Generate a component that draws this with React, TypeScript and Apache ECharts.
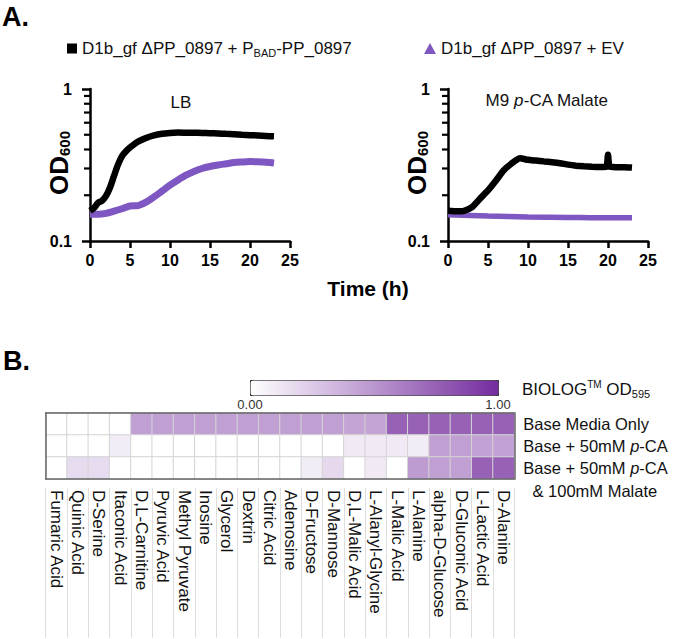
import React, { useEffect, useRef } from 'react';
import * as echarts from 'echarts';

const FONT = 'Liberation Sans, Arial, Helvetica, sans-serif';

// ---- Panel A: growth curves (time in h, OD600) ----
const lbTime = [0, 0.5, 1, 1.5, 2, 2.5, 3, 3.5, 4, 4.5, 5, 5.5, 6, 7, 8, 9, 10, 11, 12, 13, 14, 15, 16, 17, 18, 19, 20, 21, 22, 23];
const lbComplemented = [0.158, 0.165, 0.178, 0.184, 0.198, 0.225, 0.268, 0.318, 0.362, 0.39, 0.412, 0.432, 0.45, 0.476, 0.496, 0.508, 0.514, 0.517, 0.516, 0.515, 0.514, 0.512, 0.51, 0.507, 0.504, 0.5, 0.497, 0.494, 0.491, 0.488];
const lbEvTime = [0, 1, 2, 3, 4, 5, 6, 7, 8, 9, 10, 11, 12, 13, 14, 15, 16, 17, 18, 19, 20, 21, 22, 23];
const lbEmptyVector = [0.15, 0.15, 0.152, 0.157, 0.163, 0.17, 0.171, 0.18, 0.195, 0.213, 0.233, 0.252, 0.271, 0.287, 0.3, 0.309, 0.316, 0.322, 0.328, 0.331, 0.333, 0.332, 0.33, 0.326];
const m9Time = [0, 1, 2, 3, 4, 5, 6, 7, 8, 9, 10, 11, 12, 13, 14, 15, 16, 17, 18, 19, 19.8, 20, 20.2, 21, 22, 23];
const m9Complemented = [0.158, 0.157, 0.158, 0.167, 0.19, 0.215, 0.25, 0.293, 0.325, 0.35, 0.342, 0.338, 0.334, 0.33, 0.325, 0.318, 0.313, 0.31, 0.308, 0.307, 0.308, 0.37, 0.308, 0.306, 0.306, 0.304];
const m9EvTime = [0, 5, 10, 15, 20, 23];
const m9EmptyVector = [0.149, 0.146, 0.144, 0.143, 0.142, 0.142];
const timeTicks = [0, 25, 5];
const odRange = [0.1, 1];
const odMinorTicks = [0.2, 0.3, 0.4, 0.5, 0.6, 0.7, 0.8, 0.9];

const compName = 'D1b_gf ΔPP_0897 + PBAD-PP_0897';
const evName = 'D1b_gf ΔPP_0897 + EV';

// ---- Panel B: BIOLOG heatmap ----
const carbonSources = ['Fumaric Acid', 'Quinic Acid', 'D-Serine', 'Itaconic Acid', 'D,L-Carnitine', 'Pyruvic Acid', 'Methyl Pyruvate', 'Inosine', 'Glycerol', 'Dextrin', 'Citric Acid', 'Adenosine', 'D-Fructose', 'D-Mannose', 'D,L-Malic Acid', 'L-Alanyl-Glycine', 'L-Malic Acid', 'L-Alanine', 'alpha-D-Glucose', 'D-Gluconic Acid', 'L-Lactic Acid', 'D-Alanine'];
const conditions = ['Base Media Only', 'Base + 50mM p-CA', 'Base + 50mM p-CA & 100mM Malate'];
const baseMediaOnly = [0, 0, 0, 0, 0.45, 0.45, 0.45, 0.45, 0.45, 0.45, 0.45, 0.45, 0.45, 0.45, 0.43, 0.43, 0.75, 0.75, 0.75, 0.75, 0.75, 0.75];
const basePCA = [0, 0, 0, 0.09, 0, 0, 0, 0, 0, 0, 0, 0, 0, 0, 0.1, 0.1, 0.1, 0.09, 0.45, 0.45, 0.44, 0.44];
const basePCAMalate = [0, 0.17, 0.17, 0, 0, 0, 0, 0, 0, 0, 0, 0, 0.09, 0.18, 0, 0.1, 0, 0.47, 0.45, 0.45, 0.75, 0.75];
const colorRange = [0, 1];

const zip = (xs: number[], ys: number[]) => xs.map((x, i) => [x, ys[i]]);

const BLACK = '#000';
const PURPLE = '#7e57c2';

function growthAxes(gi: number) {
  const x = {
    type: 'value', gridIndex: gi, position: 'bottom', min: timeTicks[0], max: timeTicks[1], interval: timeTicks[2],
    axisLine: { show: true, lineStyle: { color: BLACK, width: 2.5 } },
    axisTick: { show: true, length: 7, lineStyle: { color: BLACK, width: 2.5 } },
    axisLabel: { margin: 11, fontSize: 16, fontWeight: 'bold', color: BLACK, fontFamily: FONT },
    splitLine: { show: false },
  };
  const y = {
    type: 'log', logBase: 10, gridIndex: gi, position: 'left', min: odRange[0], max: odRange[1],
    axisLine: { show: true, lineStyle: { color: BLACK, width: 2.5 } },
    axisTick: { show: true, length: 8, lineStyle: { color: BLACK, width: 2.5 } },
    axisLabel: { margin: 18, fontSize: 16, fontWeight: 'bold', color: BLACK, fontFamily: FONT, formatter: (v: number) => (v > 0.5 ? '1' : '0.1') },
    splitLine: { show: false },
  };
  // narrow strip left of the axis holding the minor log ticks
  const stripX = { type: 'value', gridIndex: gi + 4, min: 0, max: 1, show: false };
  const stripY = { type: 'log', logBase: 10, gridIndex: gi + 4, min: odRange[0], max: odRange[1], show: false };
  return { x, y, stripX, stripY };
}

function minorTickSeries(xi: number, yi: number) {
  return {
    type: 'scatter', xAxisIndex: xi, yAxisIndex: yi, silent: true,
    data: odMinorTicks.map((v) => [0.5, v]),
    symbol: 'rect', symbolSize: [6, 2.2], itemStyle: { color: BLACK, opacity: 1 }, z: 5,
  };
}

export default function App() {
  const ref = useRef<HTMLDivElement>(null);
  useEffect(() => {
    if (!ref.current) return;
    const chart = echarts.init(ref.current, undefined, { renderer: 'svg' });
    const g0 = growthAxes(0);
    const g1 = growthAxes(1);
    const heatData: any[] = [];
    [baseMediaOnly, basePCA, basePCAMalate].forEach((row, r) => row.forEach((v, c) => heatData.push([c, r, v])));

    const rowRich = {
      n: { fontSize: 16.5, color: '#111', fontFamily: FONT, lineHeight: 23 },
      i: { fontSize: 16.5, color: '#111', fontFamily: FONT, fontStyle: 'italic', lineHeight: 23 },
    };
    const rowFormatter = (v: string) => {
      if (v === conditions[0]) return '{n|Base Media Only}';
      if (v === conditions[1]) return '{n|Base + 50mM }{i|p}{n|-CA}';
      return '{n| }\n{n|Base + 50mM }{i|p}{n|-CA}\n{n|  & 100mM Malate}';
    };
    const legendRich = {
      n: { fontSize: 17, color: '#111', fontFamily: FONT, lineHeight: 20 },
      s: { fontSize: 11, color: '#111', fontFamily: FONT, verticalAlign: 'bottom', lineHeight: 12 },
    };
    const odText = (x: number) => ({
      type: 'text', x, y: 163, rotation: Math.PI / 2,
      style: {
        text: '{a|OD}{b|600}', align: 'center', verticalAlign: 'middle',
        rich: {
          a: { fontSize: 26, fontWeight: 'bold', fill: BLACK, fontFamily: FONT, lineHeight: 26 },
          b: { fontSize: 15, fontWeight: 'bold', fill: BLACK, fontFamily: FONT, verticalAlign: 'bottom', lineHeight: 15 },
        },
      },
    });

    const option: any = {
      animation: false,
      textStyle: { fontFamily: FONT },
      grid: [
        { left: 90, top: 89, width: 200, height: 152 },
        { left: 448, top: 89, width: 200, height: 152 },
        { left: 45.7, top: 413, width: 468.6, height: 66 },
        { left: 250, top: 395, width: 248, height: 1 },
        { left: 84, top: 89, width: 6, height: 152 },
        { left: 442, top: 89, width: 6, height: 152 },
      ],
      legend: [
        {
          data: [{ name: compName, icon: 'rect' }], left: 62, top: 35, itemWidth: 10, itemHeight: 10, selectedMode: false,
          formatter: () => '{n|D1b_gf ΔPP_0897 + P}{s|BAD}{n|-PP_0897}', textStyle: { rich: legendRich },
        },
        {
          data: [{ name: evName, icon: 'triangle' }], left: 419, top: 35, itemWidth: 12, itemHeight: 11, selectedMode: false,
          formatter: () => '{n|D1b_gf ΔPP_0897 + EV}', textStyle: { rich: legendRich },
        },
      ],
      xAxis: [
        g0.x,
        g1.x,
        { type: 'category', gridIndex: 2, position: 'bottom', data: carbonSources, z: 5, axisLine: { show: true, lineStyle: { color: '#666', width: 1.5 } }, axisTick: { show: false }, axisLabel: { show: false } },
        {
          type: 'category', gridIndex: 2, position: 'bottom', offset: 9, data: carbonSources,
          axisLine: { show: false },
          axisTick: { show: true, length: 150, interval: 0, lineStyle: { color: '#dedede', width: 1 } },
          axisLabel: { interval: 0, rotate: -90, margin: 2, fontSize: 17, color: '#111', fontFamily: FONT },
        },
        { type: 'category', gridIndex: 2, position: 'top', data: carbonSources, z: 5, axisLine: { show: true, lineStyle: { color: '#666', width: 1.5 } }, axisTick: { show: false }, axisLabel: { show: false } },
        {
          type: 'value', gridIndex: 3, position: 'bottom', min: colorRange[0], max: colorRange[1], interval: 1,
          axisLine: { show: false }, axisTick: { show: false }, splitLine: { show: false },
          axisLabel: { margin: 2, fontSize: 13, color: '#333', fontFamily: FONT, formatter: (v: number) => v.toFixed(2) },
        },
        g0.stripX,
        g1.stripX,
      ],
      yAxis: [
        g0.y,
        g1.y,
        {
          type: 'category', gridIndex: 2, position: 'right', inverse: true, data: conditions, z: 5,
          axisLine: { show: true, lineStyle: { color: '#666', width: 1.5 } }, axisTick: { show: false },
          axisLabel: { interval: 0, margin: 9, align: 'left', formatter: rowFormatter, rich: rowRich },
        },
        { type: 'category', gridIndex: 2, position: 'left', inverse: true, data: conditions, z: 5, axisLine: { show: true, lineStyle: { color: '#666', width: 1.5 } }, axisTick: { show: false }, axisLabel: { show: false } },
        { type: 'value', gridIndex: 3, show: false },
        g0.stripY,
        g1.stripY,
      ],
      visualMap: {
        type: 'continuous', min: colorRange[0], max: colorRange[1], orient: 'horizontal', left: 250, top: 380,
        itemWidth: 15, itemHeight: 248, padding: 0, borderColor: '#222', borderWidth: 1, calculable: false,
        seriesIndex: 4, hoverLink: false, inRange: { color: ['#ffffff', '#742c9e'] },
      },
      graphic: [
        { type: 'text', x: 2, y: 3, style: { text: 'A.', fontSize: 27, fontWeight: 'bold', fill: '#000', fontFamily: FONT } },
        { type: 'text', x: 3, y: 347, style: { text: 'B.', fontSize: 27, fontWeight: 'bold', fill: '#000', fontFamily: FONT } },
        odText(59),
        odText(417),
        { type: 'text', x: 181, y: 102, style: { text: 'LB', fontSize: 17, fill: '#111', fontFamily: FONT, align: 'center', verticalAlign: 'middle' } },
        {
          type: 'text', x: 547, y: 100,
          style: {
            text: '{n|M9 }{i|p}{n|-CA Malate}', align: 'center', verticalAlign: 'middle',
            rich: { n: { fontSize: 17, fill: '#111', fontFamily: FONT }, i: { fontSize: 17, fill: '#111', fontFamily: FONT, fontStyle: 'italic' } },
          },
        },
        { type: 'text', x: 368, y: 288, style: { text: 'Time (h)', fontSize: 21, fontWeight: 'bold', fill: '#000', fontFamily: FONT, align: 'center', verticalAlign: 'middle' } },
        {
          type: 'text', x: 522, y: 389,
          style: {
            text: '{n|BIOLOG}{sup|TM}{n| OD}{sub|595}', verticalAlign: 'middle',
            rich: {
              n: { fontSize: 17, fill: '#111', fontFamily: FONT, lineHeight: 20 },
              sup: { fontSize: 10, fill: '#111', fontFamily: FONT, verticalAlign: 'top', lineHeight: 10 },
              sub: { fontSize: 11, fill: '#111', fontFamily: FONT, verticalAlign: 'bottom', lineHeight: 12 },
            },
          },
        },
      ],
      series: [
        { type: 'line', name: evName, xAxisIndex: 0, yAxisIndex: 0, data: zip(lbEvTime, lbEmptyVector), showSymbol: false, smooth: 0.3, lineStyle: { color: PURPLE, width: 7 }, itemStyle: { color: PURPLE }, z: 2 },
        { type: 'line', name: compName, xAxisIndex: 0, yAxisIndex: 0, data: zip(lbTime, lbComplemented), showSymbol: false, smooth: 0.3, lineStyle: { color: BLACK, width: 6.5 }, itemStyle: { color: BLACK }, z: 3 },
        { type: 'line', name: evName, xAxisIndex: 1, yAxisIndex: 1, data: zip(m9EvTime, m9EmptyVector), showSymbol: false, smooth: 0.3, lineStyle: { color: PURPLE, width: 5.5 }, itemStyle: { color: PURPLE }, z: 2 },
        { type: 'line', name: compName, xAxisIndex: 1, yAxisIndex: 1, data: zip(m9Time, m9Complemented), showSymbol: false, smooth: 0.2, lineStyle: { color: BLACK, width: 6.5 }, itemStyle: { color: BLACK }, z: 3 },
        {
          type: 'heatmap', xAxisIndex: 2, yAxisIndex: 2, data: heatData,
          itemStyle: { borderColor: '#d4d4d4', borderWidth: 1 }, emphasis: { disabled: true },
        },
        minorTickSeries(6, 5),
        minorTickSeries(7, 6),
      ],
    };
    chart.setOption(option);
    return () => chart.dispose();
  }, []);
  return <div ref={ref} style={{ position: 'absolute', left: 0, top: 0, width: 685, height: 639 }} />;
}
